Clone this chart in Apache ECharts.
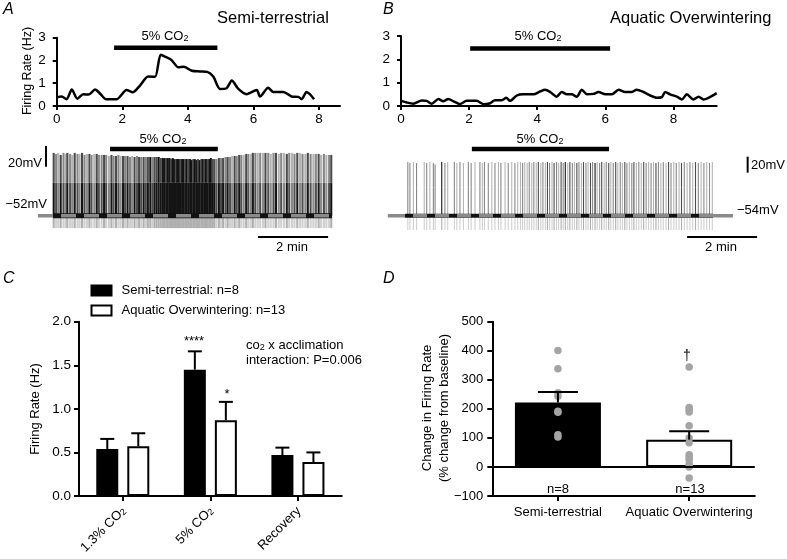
<!DOCTYPE html>
<html><head><meta charset="utf-8">
<script src="https://cdn.jsdelivr.net/npm/echarts@6/dist/echarts.min.js"></script>
<style>html,body{margin:0;padding:0;background:#fff}#c{width:787px;height:559px}</style>
</head><body><div id="c"></div>
<script>
const FONT = 'Liberation Sans, Arial, Helvetica, sans-serif';

// ---------- Panel A / B : firing rate (Hz) vs time (min) ----------
const rateTimeA = [0,0.15,0.30,0.46,0.63,0.81,0.97,1.17,1.32,1.50,1.83,2.13,2.32,2.54,2.79,3.00,3.17,3.30,3.50,3.71,3.88,4.12,4.37,4.59,4.78,4.98,5.18,5.34,5.54,5.79,6.10,6.20,6.45,6.60,6.91,7.16,7.37,7.47,7.62,7.72,7.85];
const rateA     = [0.38,0.42,0.30,0.72,0.32,0.52,0.50,0.72,0.55,0.30,0.30,0.70,0.60,0.90,1.30,1.28,2.25,2.17,2.02,1.70,1.72,1.55,1.52,1.50,1.28,0.75,0.78,1.12,0.75,0.52,0.70,0.42,0.80,0.62,0.62,0.42,0.40,0.30,0.62,0.52,0.30];
const rateTimeB = [0,0.17,0.36,0.61,0.75,0.90,1.10,1.24,1.39,1.54,1.73,1.93,2.22,2.42,2.62,2.76,2.96,3.09,3.20,3.40,3.59,3.89,4.08,4.23,4.38,4.57,4.72,4.87,5.01,5.16,5.31,5.46,5.65,5.80,6.00,6.19,6.39,6.58,6.78,6.92,7.12,7.32,7.51,7.66,7.76,7.90,8.10,8.25,8.39,8.59,8.74,8.88,9.03,9.27];
const rateB     = [0.22,0.15,0.10,0.24,0.22,0.10,0.30,0.20,0.30,0.20,0.08,0.22,0.22,0.08,0.12,0.25,0.25,0.35,0.22,0.45,0.50,0.50,0.62,0.70,0.60,0.40,0.60,0.50,0.50,0.40,0.70,0.50,0.52,0.60,0.50,0.50,0.70,0.60,0.60,0.70,0.60,0.45,0.35,0.38,0.60,0.50,0.40,0.28,0.50,0.28,0.40,0.28,0.35,0.55];
const rateTicksX = [0, 2, 4, 6, 8];
const rateTicksY = [0, 1, 2, 3];
const rateMaxA = 8.64, rateMaxB = 9.27;
const co2RateA = [1.75, 4.90], co2RateLevelA = 2.56;
const co2RateB = [2.03, 6.14], co2RateLevelB = 2.46;

// ---------- Panel A / B : membrane potential traces ----------
// spike: [time (min), peak (mV), shade 0..3]
const spikesA = [
 [0.02,9,2],[0.09,8,1],[0.15,9,0],[0.22,7,2],[0.30,9,1],[0.36,8,0],[0.41,9,2],[0.49,8,1],[0.55,7,0],[0.62,9,2],[0.70,8,1],[0.76,8,0],[0.83,9,2],[0.90,7,1],[0.97,8,0],[1.04,8,2],[1.10,7,1],[1.18,8,0],[1.25,8,2],[1.31,7,1],
 [1.39,7,1],[1.46,7,2],[1.52,7,1],[1.60,6,0],[1.67,7,2],[1.73,6,1],[1.80,6,2],[1.87,7,1],[1.93,6,0],[2.00,6,2],[2.06,6,1],[2.13,6,2],[2.20,5,1],[2.26,6,0],[2.33,5,2],[2.40,6,1],[2.46,5,2],[2.52,5,1],[2.59,5,2],[2.65,5,1],[2.71,5,2],[2.78,5,3],[2.84,5,1],[2.90,5,2],[2.96,5,2],[3.02,5,3],[3.08,4,2],[3.14,4,3],
 [3.19,4,3],[3.24,4,2],[3.28,4,3],[3.33,4,3],[3.37,3,2],[3.42,4,3],[3.46,3,3],[3.51,3,2],[3.55,3,3],[3.60,3,3],[3.64,3,2],[3.69,3,3],[3.73,3,3],[3.78,3,2],[3.82,3,3],[3.87,3,2],[3.92,3,3],[3.96,2,3],[4.01,3,2],[4.05,3,3],[4.10,2,3],[4.14,3,2],[4.19,2,3],[4.24,3,2],[4.28,3,3],[4.33,3,2],[4.37,3,3],[4.42,3,2],[4.47,3,3],[4.51,4,3],[4.56,3,2],[4.61,3,2],
 [4.67,3,1],[4.74,4,2],[4.80,4,1],[4.86,4,2],[4.93,5,1],[4.99,5,2],[5.06,5,1],[5.12,6,0],[5.19,6,2],[5.25,6,1],[5.32,7,2],[5.38,7,1],[5.45,7,0],[5.52,8,2],[5.58,8,1],[5.65,8,0],[5.71,9,2],[5.78,9,1],[5.85,9,0],
 [5.92,9,1],[6.00,9,0],[6.07,9,2],[6.15,9,1],[6.22,8,0],[6.30,9,1],[6.37,9,2],[6.45,8,0],[6.52,9,1],[6.60,9,0],[6.68,8,2],[6.75,9,1],[6.83,9,0],[6.90,8,1],[6.98,9,2],[7.06,9,0],[7.13,8,1],[7.21,8,0],[7.28,9,2],[7.36,8,1],[7.44,8,0],[7.51,8,1],[7.59,8,2],[7.66,7,0],[7.74,8,1],[7.81,7,0],[7.89,7,1],[7.95,7,2]
];
const spikesB = [
 [0.08,13,1],[0.14,12,1],[0.24,13,0],[0.33,12,1],[0.55,13,0],[0.62,12,1],[0.71,13,0],[0.81,12,1],[0.86,10,1],[1.05,13,3],[1.14,12,1],[1.22,13,0],[1.41,13,1],[1.48,12,0],[1.57,13,1],[1.67,12,0],[1.81,13,1],[1.89,12,1],[2.00,13,0],[2.14,13,1],[2.21,12,0],[2.27,13,1],[2.38,12,1],[2.48,13,0],[2.57,12,1],[2.67,13,0],[2.74,12,1],[2.86,13,0],[2.95,12,1],[3.05,13,0],[3.14,12,1],[3.22,13,0],
 [3.30,13,0],[3.36,12,1],[3.42,13,0],[3.49,12,0],[3.55,13,1],[3.62,12,0],[3.68,13,1],[3.75,12,0],[3.81,13,2],[3.88,12,0],[3.94,13,1],[4.01,12,0],[4.07,13,2],[4.13,12,1],[4.20,13,0],[4.26,12,2],[4.33,13,1],[4.39,12,0],[4.46,13,2],[4.52,12,1],[4.58,13,3],[4.65,12,0],[4.71,13,2],[4.78,12,1],[4.84,13,0],[4.91,12,2],[4.97,13,1],[5.04,12,0],[5.10,13,2],[5.17,12,1],[5.23,13,0],[5.30,12,2],[5.36,13,1],[5.43,12,3],[5.49,13,0],[5.56,12,1],[5.62,13,2],[5.69,12,0],[5.75,13,1],[5.82,12,2],[5.88,13,0],[5.95,12,1],[6.02,13,2],[6.08,12,0],[6.15,13,1],[6.21,12,0],[6.28,13,2],[6.34,12,1],[6.41,13,0],[6.48,12,1],[6.54,13,2],[6.61,12,0],[6.68,13,1],[6.75,12,0],[6.82,13,2],[6.89,12,1],[6.96,13,0],[7.03,12,1],[7.10,13,0],[7.17,12,2],[7.24,13,1],[7.31,12,0],[7.38,13,1],[7.46,12,0],[7.53,13,2],[7.60,12,1],[7.68,13,0],[7.75,12,1],[7.83,13,0],[7.90,12,2],[7.98,13,1],[8.06,12,0],[8.14,13,1],[8.22,12,0],[8.30,13,2],[8.38,12,1],[8.46,13,0],[8.54,12,1],[8.62,13,0],[8.70,12,1],[8.78,13,0]
];
// trace levels (mV) and extents (min)
const restA = -52, underA = -64, midA = -20, traceEndA = 7.97, refLineA = [-0.43, 7.97];
const restB = -54, underB = -72, midB = -19, traceEndB = 8.80, refLineB = [-0.49, 9.37];
const co2TraceA = [1.63, 4.71], co2TraceLevelA = 12.7;
const co2TraceB = [1.91, 5.83], co2TraceLevelB = 29.4;
const mvBarA = [-0.20, -4.4, 15.6];   // [time, from mV, to mV] -> 20 mV
const mvBarB = [9.79, -0.25, 19.75];
const minBarA = [5.86, 7.86, -72.7];  // [from min, to min, mV] -> 2 min
const minBarB = [8.06, 10.06, -80.6];

// ---------- Panel C ----------
const groupNames = ['Semi-terrestrial', 'Aquatic Overwintering'];
const groupN = [8, 13];
const conditions = ['1.3% CO2', '5% CO2', 'Recovery'];
const semiMean = [0.54, 1.45, 0.47];
const semiSem  = [0.115, 0.21, 0.085];
const aquaMean = [0.57, 0.87, 0.39];
const aquaSem  = [0.15, 0.21, 0.11];

// ---------- Panel D ----------
const pctMean = [222, 94];
const pctSem  = [36, 29];
const semiDots = [401, 338, 255, 243, 192, 188, 111, 103];
const aquaDots = [344, 205, 197, 189, 142, 100, 83, 42, 33, 25, 10, 0, -38];

// ======================================================================
const SHADES = ['#b4b4b4', '#878787', '#4c4c4c', '#141414'];
const UNDER = ['#d0d0d0', '#b0b0b0'];
const blackAxis = {show: true, onZero: false, lineStyle: {color: '#000', width: 2}};
const tickStyle = {color: '#000', width: 2};
const labelStyle = (extra) => Object.assign({color: '#000', fontSize: 13.5, fontFamily: FONT}, extra || {});
const richSub = {
  a: {fontSize: 13, fontFamily: FONT, color: '#000', lineHeight: 16, verticalAlign: 'bottom'},
  b: {fontSize: 9, fontFamily: FONT, color: '#000', lineHeight: 9, verticalAlign: 'bottom'}
};
const subText = (s) => {
  const m = s.match(/^(.*?)(co|CO)2(.*)$/);
  if (!m) return '{a|' + s + '}';
  return '{a|' + m[1] + m[2] + '}{b|2}' + (m[3] ? '{a|' + m[3] + '}' : '');
};

function spikeRenderer(rest, under, mid, lowBoost, lw) {
  return function (params, api) {
    const t = api.value(0), peak = api.value(1), s = api.value(2);
    const pU = api.coord([t, under]), pR = api.coord([t, rest]), pM = api.coord([t, mid]), pP = api.coord([t, peak]);
    const low = Math.min(3, s + lowBoost);
    return {type: 'group', children: [
      {type: 'line', shape: {x1: pU[0], y1: pU[1], x2: pR[0], y2: pR[1]}, style: {stroke: UNDER[s > 1 ? 1 : 0], lineWidth: lw}},
      {type: 'line', shape: {x1: pR[0], y1: pR[1], x2: pM[0], y2: pM[1]}, style: {stroke: SHADES[low], lineWidth: lw}},
      {type: 'line', shape: {x1: pM[0], y1: pM[1], x2: pP[0], y2: pP[1]}, style: {stroke: SHADES[s], lineWidth: lw}}
    ]};
  };
}
function errRenderer(offset, capHalf) {
  return function (params, api) {
    const c = api.value(0), m = api.value(1), e = api.value(2);
    const p0 = api.coord([c, m]), p1 = api.coord([c, m + e]);
    const x = p0[0] + offset;
    return {type: 'group', children: [
      {type: 'line', shape: {x1: x, y1: p0[1], x2: x, y2: p1[1]}, style: {stroke: '#000', lineWidth: 2}},
      {type: 'line', shape: {x1: x - capHalf, y1: p1[1], x2: x + capHalf, y2: p1[1]}, style: {stroke: '#000', lineWidth: 2}}
    ]};
  };
}
function seg(xi, yi, pts, color, width, extra) {
  return Object.assign({type: 'line', xAxisIndex: xi, yAxisIndex: yi, data: pts, symbol: 'none', silent: true,
    lineStyle: {color: color, width: width}, z: 5}, extra || {});
}

function rateX(gi, max) {
  return {gridIndex: gi, type: 'value', min: 0, max: max, interval: 2, axisLine: blackAxis,
    axisTick: {show: true, length: 4, lineStyle: tickStyle, customValues: rateTicksX},
    axisLabel: labelStyle({margin: 6, customValues: rateTicksX}), splitLine: {show: false}};
}
function rateY(gi) {
  return {gridIndex: gi, type: 'value', min: 0, max: 3, interval: 1, axisLine: blackAxis,
    axisTick: {show: true, length: 4, lineStyle: tickStyle, customValues: rateTicksY},
    axisLabel: labelStyle({margin: 11, customValues: rateTicksY}), splitLine: {show: false}};
}
const hiddenAxis = (gi, min, max) => ({gridIndex: gi, type: 'value', min: min, max: max, show: false, splitLine: {show: false}});

const semiName = groupNames[0] + ': n=' + groupN[0];
const aquaName = groupNames[1] + ': n=' + groupN[1];

function gText(x, y, text, style, extra) {
  return Object.assign({type: 'text', x: x, y: y, silent: true,
    style: Object.assign({text: text, fill: '#000', fontSize: 13, fontFamily: FONT, align: 'center', verticalAlign: 'middle'}, style || {})},
    extra || {});
}
const subLabel = (x, y, s, align) => ({type: 'text', x: x, y: y, silent: true,
  style: {text: subText(s), rich: richSub, align: align || 'center', verticalAlign: 'middle', fill: '#000'}});
const ROT = {rotation: Math.PI / 2};
const letter = {fontSize: 16, fontStyle: 'italic', align: 'left'};

const option = {
  animation: false,
  backgroundColor: '#fff',
  textStyle: {fontFamily: FONT},
  grid: [
    {left: 56.7, top: 37.7, width: 283.3, height: 68.3},
    {left: 401, top: 36, width: 315.7, height: 70},
    {left: 35.5, top: 140, width: 297.5, height: 105},
    {left: 387.5, top: 140, width: 374.5, height: 105},
    {left: 79, top: 321.7, width: 262.7, height: 174.3},
    {left: 492.3, top: 321.7, width: 262.5, height: 174.3}
  ],
  xAxis: [
    rateX(0, rateMaxA),
    rateX(1, rateMaxB),
    hiddenAxis(2, -0.5, 8.0),
    hiddenAxis(3, -0.5, 10.2),
    {gridIndex: 4, type: 'category', data: conditions, axisLine: blackAxis,
      axisTick: {show: true, alignWithLabel: true, length: 5, lineStyle: tickStyle},
      axisLabel: {rotate: 45, margin: 12, interval: 0, color: '#000', formatter: (v) => subText(v), rich: richSub}},
    {gridIndex: 5, type: 'category', data: groupNames, axisLine: blackAxis,
      axisTick: {show: true, alignWithLabel: true, length: 5, lineStyle: tickStyle},
      axisLabel: labelStyle({fontSize: 13, margin: 10, interval: 0})}
  ],
  yAxis: [
    rateY(0),
    rateY(1),
    hiddenAxis(2, -80.4, 21.5),
    hiddenAxis(3, -90.6, 40.6),
    {gridIndex: 4, type: 'value', min: 0, max: 2, interval: 0.5, axisLine: blackAxis,
      axisTick: {show: true, length: 5, lineStyle: tickStyle},
      axisLabel: labelStyle({margin: 8, formatter: (v) => v.toFixed(1)}), splitLine: {show: false}},
    {gridIndex: 5, type: 'value', min: -100, max: 500, interval: 100, axisLine: blackAxis,
      axisTick: {show: true, length: 5, lineStyle: tickStyle},
      axisLabel: labelStyle({fontSize: 13, margin: 9, formatter: (v) => (v < 0 ? '\u2212' + Math.abs(v) : String(v))}), splitLine: {show: false}}
  ],
  legend: {
    data: [semiName, aquaName], orient: 'vertical', left: 90.5, top: 284, padding: 0,
    itemWidth: 20, itemHeight: 10, itemGap: 7, icon: 'rect', selectedMode: false,
    textStyle: {fontSize: 13, fontFamily: FONT, color: '#000', padding: [0, 0, 0, 5]}
  },
  series: [
    // A / B firing rate
    {type: 'line', xAxisIndex: 0, yAxisIndex: 0, data: rateTimeA.map((t, i) => [t, rateA[i]]), symbol: 'none', smooth: 0.25,
      lineStyle: {color: '#000', width: 2.5}, silent: true},
    {type: 'line', xAxisIndex: 1, yAxisIndex: 1, data: rateTimeB.map((t, i) => [t, rateB[i]]), symbol: 'none', smooth: 0.25,
      lineStyle: {color: '#000', width: 2.5}, silent: true},
    seg(0, 0, co2RateA.map(t => [t, co2RateLevelA]), '#000', 4.5),
    seg(1, 1, co2RateB.map(t => [t, co2RateLevelB]), '#000', 4.5),

    // A trace
    {type: 'custom', xAxisIndex: 2, yAxisIndex: 2, data: spikesA, renderItem: spikeRenderer(restA, underA, midA, 1, 2.1), silent: true, z: 2},
    seg(2, 2, [[0, restA], [traceEndA, restA]], '#111', 5, {z: 3}),
    seg(2, 2, [[refLineA[0], restA], [0, restA]], '#8a8a8a', 3.5, {z: 4}),
    seg(2, 2, [[0, restA], [refLineA[1], restA]], '#8a8a8a', 3.5, {z: 4, lineStyle: {color: '#8a8a8a', width: 3.5, type: [15, 8], dashOffset: 15}}),
    seg(2, 2, co2TraceA.map(t => [t, co2TraceLevelA]), '#000', 4.5),
    seg(2, 2, [[mvBarA[0], mvBarA[1]], [mvBarA[0], mvBarA[2]]], '#000', 2),
    seg(2, 2, [[minBarA[0], minBarA[2]], [minBarA[1], minBarA[2]]], '#000', 2),

    // B trace
    {type: 'custom', xAxisIndex: 3, yAxisIndex: 3, data: spikesB, renderItem: spikeRenderer(restB, underB, midB, 0, 1.1), silent: true, z: 2},
    seg(3, 3, [[0, restB], [traceEndB, restB]], '#111', 4, {z: 3}),
    seg(3, 3, [[refLineB[0], restB], [0, restB]], '#8a8a8a', 3.5, {z: 4}),
    seg(3, 3, [[traceEndB, restB], [refLineB[1], restB]], '#8a8a8a', 3.5, {z: 4}),
    seg(3, 3, [[0, restB], [traceEndB, restB]], '#8a8a8a', 3.5, {z: 4, lineStyle: {color: '#8a8a8a', width: 3.5, type: [14, 8], dashOffset: 14}}),
    seg(3, 3, co2TraceB.map(t => [t, co2TraceLevelB]), '#000', 4.5),
    seg(3, 3, [[mvBarB[0], mvBarB[1]], [mvBarB[0], mvBarB[2]]], '#000', 2),
    seg(3, 3, [[minBarB[0], minBarB[2]], [minBarB[1], minBarB[2]]], '#000', 2),

    // C
    {type: 'bar', name: semiName, xAxisIndex: 4, yAxisIndex: 4, data: semiMean, barWidth: 22, barGap: '41%',
      itemStyle: {color: '#000', borderColor: '#000', borderWidth: 2}, silent: true},
    {type: 'bar', name: aquaName, xAxisIndex: 4, yAxisIndex: 4, data: aquaMean, barWidth: 22, barGap: '41%',
      itemStyle: {color: '#fff', borderColor: '#000', borderWidth: 2}, silent: true},
    {type: 'custom', xAxisIndex: 4, yAxisIndex: 4, data: semiMean.map((m, i) => [i, m, semiSem[i]]), renderItem: errRenderer(-15.5, 7), silent: true, z: 5},
    {type: 'custom', xAxisIndex: 4, yAxisIndex: 4, data: aquaMean.map((m, i) => [i, m, aquaSem[i]]), renderItem: errRenderer(15.5, 7), silent: true, z: 5},

    // D
    {type: 'bar', xAxisIndex: 5, yAxisIndex: 5, barWidth: 86, silent: true,
      data: pctMean.map((v, i) => ({value: v, itemStyle: {color: i === 0 ? '#000' : '#fff'}})),
      itemStyle: {borderColor: '#000', borderWidth: 2},
      markLine: {silent: true, symbol: 'none', label: {show: false}, lineStyle: {color: '#000', width: 2, type: 'solid'}, data: [{yAxis: 0}]}},
    {type: 'scatter', xAxisIndex: 5, yAxisIndex: 5, symbolSize: 7.5, silent: true, z: 4,
      itemStyle: {color: '#a4a4a4', opacity: 1},
      data: semiDots.map(v => [0, v]).concat(aquaDots.map(v => [1, v]))},
    {type: 'custom', xAxisIndex: 5, yAxisIndex: 5, data: pctMean.map((m, i) => [i, m, pctSem[i]]), renderItem: errRenderer(0, 20), silent: true, z: 6}
  ],
  graphic: [
    gText(3, 10, 'A', letter),
    gText(383, 10, 'B', letter),
    gText(3, 279, 'C', letter),
    gText(383, 279, 'D', letter),
    gText(217, 18, groupNames[0], {fontSize: 16.5, align: 'left'}),
    gText(610, 18, groupNames[1], {fontSize: 16.5, align: 'left'}),
    gText(27.5, 71, 'Firing Rate (Hz)', {fontSize: 12.5}, ROT),
    subLabel(165, 35, '5% CO2'),
    subLabel(538, 35, '5% CO2'),
    subLabel(163, 138, '5% CO2'),
    subLabel(540, 138, '5% CO2'),
    gText(42, 163, '20mV', {align: 'right'}),
    gText(47, 204, '\u221252mV', {align: 'right'}),
    gText(292, 247, '2 min'),
    gText(751, 165, '20mV', {align: 'left'}),
    gText(737, 210, '\u221254mV', {align: 'left'}),
    gText(721, 247, '2 min'),
    // C
    gText(35, 409, 'Firing Rate (Hz)', {}, ROT),
    gText(194, 341, '****'),
    gText(227, 394, '*'),
    subLabel(246, 344, 'co2 x acclimation', 'left'),
    gText(246, 360, 'interaction: P=0.006', {align: 'left'}),
    // D
    gText(436, 408, 'Change in Firing Rate\n(% change from baseline)', {lineHeight: 16.5}, ROT),
    gText(687, 356, '\u2020', {fontSize: 14}),
    gText(558, 489, 'n=' + groupN[0]),
    gText(690, 489, 'n=' + groupN[1])
  ]
};

const chart = echarts.init(document.getElementById('c'), null, {renderer: 'canvas'});
chart.setOption(option);
</script>
</body></html>
